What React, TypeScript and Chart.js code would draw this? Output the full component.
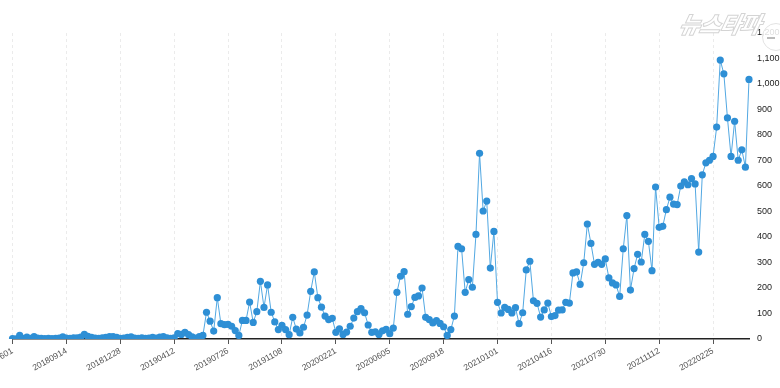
import { useEffect, useRef } from "react";
import { Chart, registerables } from "chart.js";

Chart.register(...registerables);

// ---- data ----
const START_DATE = "2018-06-01";
const LABEL_EVERY = 15;
const Y_MIN = 0;
const Y_MAX = 1200;
const Y_STEP = 100;

const VALUES: number[] = [
  2, 1, 14, 3, 7, 3, 9, 4, 3, 2,
  3, 2, 3, 4, 8, 4, 3, 5, 5, 7,
  18, 10, 6, 4, 3, 5, 6, 9, 9, 6,
  3, 4, 6, 8, 4, 3, 5, 3, 4, 6,
  4, 7, 9, 5, 3, 5, 21, 18, 26, 17,
  8, 4, 9, 14, 105, 70, 31, 162, 60, 56,
  57, 50, 33, 14, 73, 73, 145, 65, 107, 226,
  124, 212, 105, 67, 37, 54, 37, 17, 85, 39,
  24, 46, 94, 187, 263, 162, 125, 90, 76, 81,
  26, 40, 18, 27, 50, 82, 107, 119, 103, 55,
  26, 28, 18, 32, 38, 21, 43, 183, 246, 264,
  97, 127, 163, 169, 200, 85, 76, 63, 72, 61,
  48, 14, 37, 90, 363, 354, 183, 233, 203, 410,
  728, 502, 541, 278, 422, 144, 102, 124, 116, 102,
  123, 60, 103, 271, 305, 150, 140, 86, 114, 141,
  88, 92, 113, 114, 144, 141, 259, 263, 214, 299,
  451, 375, 293, 301, 293, 314, 240, 220, 212, 167,
  354, 484, 192, 276, 332, 302, 410, 383, 268, 596,
  438, 442, 507, 556, 529, 527, 600, 616, 605, 629,
  608, 341, 644, 691, 701, 716, 831, 1094, 1040, 867,
  716, 854, 701, 742, 674, 1018,
];

function weeklyLabels(start: string, n: number): string[] {
  const t0 = Date.parse(start + "T00:00:00Z");
  const out: string[] = [];
  for (let i = 0; i < n; i++) {
    const d = new Date(t0 + i * 7 * 86400000);
    out.push(
      `${d.getUTCFullYear()}${String(d.getUTCMonth() + 1).padStart(2, "0")}${String(
        d.getUTCDate()
      ).padStart(2, "0")}`
    );
  }
  return out;
}

const CATEGORIES = weeklyLabels(START_DATE, VALUES.length);

const FONT = "'Liberation Sans', Arial, sans-serif";

export default function App() {
  const ref = useRef<HTMLCanvasElement | null>(null);

  useEffect(() => {
    if (!ref.current) return;
    const chart = new Chart(ref.current, {
      type: "line",
      data: {
        labels: CATEGORIES,
        datasets: [
          {
            data: VALUES,
            borderColor: "#52a8e2",
            borderWidth: 1,
            pointRadius: 3.6,
            pointBorderWidth: 0,
            pointBackgroundColor: "#2e8fd5",
            pointBorderColor: "#2e8fd5",
            tension: 0,
            fill: false,
          },
        ],
      },
      options: {
        responsive: false,
        animation: false,
        layout: { padding: { left: 12.5, top: 33, right: 0, bottom: 0 } },
        plugins: {
          legend: { display: false },
          tooltip: { enabled: false },
        },
        scales: {
          x: {
            type: "category",
            offset: false,
            grid: {
              display: true,
              drawOnChartArea: true,
              drawTicks: true,
              tickLength: 5,
              color: "#ebebeb",
              tickColor: "#555",
              lineWidth: 1,
            },
            border: { display: true, color: "#222", width: 1.5, dash: [3, 3] },
            ticks: {
              autoSkip: false,
              minRotation: 29,
              maxRotation: 29,
              padding: 2,
              color: "#555",
              font: { family: FONT, size: 8.5 },
              callback: (_v: any, idx: number) =>
                idx % LABEL_EVERY === 0 ? CATEGORIES[idx] : null,
            },
            afterFit: (s: any) => {
              s.paddingLeft = 0;
              s.paddingRight = 0;
              s.height = 49;
            },
          },
          y: {
            position: "right",
            min: Y_MIN,
            max: Y_MAX,
            grid: { display: false, drawTicks: false },
            border: { display: false },
            ticks: {
              stepSize: Y_STEP,
              padding: 8,
              color: "#222",
              font: { family: FONT, size: 9 },
              callback: (v: any) => Number(v).toLocaleString("en-US"),
            },
            afterFit: (s: any) => {
              s.paddingTop = 0;
              s.paddingBottom = 0;
              s.width = 31;
            },
          },
        },
      },
    });
    return () => chart.destroy();
  }, []);

  return (
    <div
      style={{
        position: "absolute",
        left: 0,
        top: 0,
        width: 780,
        height: 388,
        background: "#fff",
        overflow: "hidden",
      }}
    >
      <canvas ref={ref} width={780} height={388} style={{ display: "block" }} />
      <div
        style={{
          position: "absolute",
          left: 680,
          top: 6,
          fontFamily: "'Noto Sans CJK KR', sans-serif",
          fontWeight: 900,
          fontStyle: "italic",
          fontSize: 23,
          color: "#fff",
          WebkitTextStroke: "1px #d4d4d4",
          transform: "skewX(-12deg)",
          letterSpacing: -1,
          pointerEvents: "none",
        }}
      >
        뉴스타파
      </div>
      <div
        style={{
          position: "absolute",
          left: 762,
          top: 23,
          width: 28,
          height: 28,
          borderRadius: "50%",
          background: "rgba(255,255,255,0.85)",
          border: "1px solid #e2e2e2",
          boxSizing: "border-box",
        }}
      >
        <div
          style={{
            position: "absolute",
            left: 4,
            top: 13,
            width: 8,
            height: 2,
            background: "#bbb",
          }}
        />
      </div>
    </div>
  );
}
